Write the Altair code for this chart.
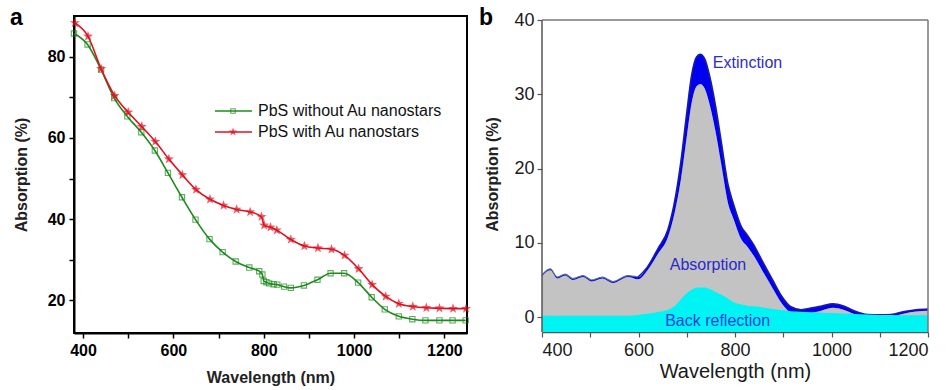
import altair as alt
import pandas as pd

# ---------- panel a data ----------
wl_without = [380, 410, 440, 469, 498, 529, 559, 588, 619, 649, 680, 709, 738, 768, 790, 797,
              800, 806, 812, 822, 830, 845, 860, 889, 919, 948, 978, 1009, 1039, 1068, 1099,
              1129, 1158, 1189, 1218, 1247]
abs_without = [85.7, 83.0, 76.8, 69.8, 65.3, 61.4, 56.9, 51.4, 45.4, 39.9, 35.1, 31.9, 29.6, 28.1, 27.2, 26.4,
               24.8, 24.5, 24.2, 24.0, 23.9, 23.4, 23.1, 23.7, 25.1, 26.7, 26.7, 24.4, 20.8, 17.8, 16.1,
               15.4, 15.1, 15.1, 15.1, 15.1]

wl_with = [382, 411, 440, 470, 500, 530, 560, 590, 620, 650, 681, 711, 740, 770, 795, 801,
           815, 829, 860, 890, 920, 950, 979, 1010, 1040, 1070, 1099, 1130, 1160, 1189, 1219, 1248]
abs_with = [88.3, 85.0, 77.0, 70.4, 66.3, 62.8, 59.1, 54.8, 50.9, 47.3, 44.9, 43.4, 42.4, 41.8, 40.6, 38.5,
            38.0, 37.3, 35.0, 33.4, 32.9, 32.6, 31.1, 27.8, 23.9, 21.0, 19.2, 18.5, 18.2, 18.1, 18.0, 18.0]

series_a = ["PbS without Au nanostars", "PbS with Au nanostars"]

# ---------- panel b data ----------
wl_b = [400, 417, 432, 448, 464, 485, 503, 525, 547, 578, 599, 619, 640, 661, 675, 688, 700, 710, 720, 728,
        737, 748, 760, 772, 785, 797, 813, 825, 840, 857, 878, 896, 916, 937, 960, 980, 1003, 1025, 1047,
        1075, 1100, 1123, 1151, 1175, 1200]
extinction = [5.7, 6.5, 5.4, 5.8, 5.2, 5.6, 5.0, 5.4, 4.8, 5.6, 5.4, 6.8, 9.2, 11.8, 15.6, 21.0, 27.5, 32.5,
              35.0, 35.4, 34.8, 32.3, 28.3, 23.4, 18.0, 15.2, 12.2, 11.1, 9.6, 7.5, 5.0, 2.9, 1.4, 1.0, 1.25,
              1.5, 1.8, 1.5, 0.85, 0.35, 0.3, 0.35, 0.75, 1.0, 1.1]
absorption = [5.5, 6.3, 5.2, 5.6, 5.0, 5.4, 4.8, 5.2, 4.6, 5.4, 5.1, 6.35, 8.5, 10.8, 14.1, 18.6, 24.3, 28.8,
              31.05, 31.4, 30.8, 28.5, 24.9, 20.4, 15.5, 13.2, 10.5, 9.55, 8.15, 6.2, 3.9, 1.95, 0.6, 0.28,
              0.6, 0.9, 1.25, 1.0, 0.43, 0.0, 0.0, 0.07, 0.5, 0.75, 0.85]
reflection = [0.2, 0.2, 0.2, 0.2, 0.2, 0.2, 0.2, 0.2, 0.2, 0.2, 0.3, 0.45, 0.7, 1.0, 1.5, 2.4, 3.2, 3.7,
              3.95, 4.0, 4.0, 3.8, 3.4, 3.0, 2.5, 2.0, 1.7, 1.55, 1.45, 1.3, 1.1, 0.95, 0.8, 0.72, 0.65,
              0.6, 0.55, 0.5, 0.42, 0.35, 0.3, 0.28, 0.25, 0.25, 0.25]

labels_b = ["Extinction", "Absorption", "Back reflection"]
label_wl = [826, 744, 764]
label_val = [34.2, 7.0, -0.55]

FONT = "Liberation Sans"
STAR = "M0,-1L0.24,-0.33L0.95,-0.31L0.38,0.12L0.59,0.81L0,0.4L-0.59,0.81L-0.38,0.12L-0.95,-0.31L-0.24,-0.33Z"

df_a = pd.concat([
    pd.DataFrame({"wl": wl_without, "val": abs_without, "series": series_a[0]}),
    pd.DataFrame({"wl": wl_with, "val": abs_with, "series": series_a[1]}),
])
df_b = pd.DataFrame({"wl": wl_b, "ext": extinction, "abs": absorption, "ref": reflection})
df_lab = pd.DataFrame({"label": labels_b, "wl": label_wl, "val": label_val})

WA, HA = 393, 317
WB, HB = 386, 316

xa = alt.X("wl:Q", scale=alt.Scale(domain=[380, 1250], nice=False, zero=False),
           axis=alt.Axis(title="Wavelength (nm)", values=list(range(400, 1201, 100)), format="d",
                         labelExpr="datum.value % 200 == 0 ? datum.label : ''",
                         grid=False, domainColor="black", domainWidth=2, tickColor="black", tickWidth=1.5,
                         tickSize=5, labelFont=FONT, labelFontSize=16, labelFontWeight="bold",
                         labelColor="black", labelPadding=4, titleFont=FONT, titleFontSize=16,
                         titleFontWeight="bold", titleColor="#222", titlePadding=11))
ya = alt.Y("val:Q", scale=alt.Scale(domain=[12, 90], nice=False, zero=False),
           axis=alt.Axis(title="Absorption (%)", values=[20, 30, 40, 50, 60, 70, 80],
                         labelExpr="datum.value % 20 == 0 ? datum.label : ''",
                         grid=False, domainColor="black", domainWidth=2, tickColor="black", tickWidth=1.5,
                         tickSize=5, labelFont=FONT, labelFontSize=16, labelFontWeight="bold",
                         labelColor="black", labelPadding=4, titleFont=FONT, titleFontSize=16,
                         titleFontWeight="bold", titleColor="#222", titlePadding=18))
color_a = alt.Color("series:N", scale=alt.Scale(domain=series_a, range=["#1e8a1e", "#e01020"]), legend=None)

base_a = alt.Chart(df_a)
lines_a = base_a.mark_line(interpolate="monotone", strokeWidth=1.6).encode(x=xa, y=ya, color=color_a)
sq = base_a.transform_filter(alt.datum.series == series_a[0]).mark_point(
    shape="square", size=28, filled=False, strokeWidth=1.1).encode(x=xa, y=ya, color=color_a)
st = base_a.transform_filter(alt.datum.series == series_a[1]).mark_point(
    shape=STAR, size=110, filled=True, strokeWidth=0).encode(x=xa, y=ya, color=color_a)

leg_df = pd.DataFrame({"series": series_a})
leg_base = alt.Chart(leg_df).transform_calculate(
    ly=f"datum.series == '{series_a[0]}' ? 95 : 116")
leg_line = leg_base.mark_rule(strokeWidth=1.6).encode(
    x=alt.value(141), x2=alt.value(178), y=alt.Y("ly:Q", scale=None), color=color_a)
leg_sq = leg_base.transform_filter(alt.datum.series == series_a[0]).mark_point(
    shape="square", size=20, filled=False, strokeWidth=1.1).encode(
    x=alt.value(159), y=alt.Y("ly:Q", scale=None), color=color_a)
leg_st = leg_base.transform_filter(alt.datum.series == series_a[1]).mark_point(
    shape=STAR, size=80, filled=True, strokeWidth=0).encode(
    x=alt.value(159), y=alt.Y("ly:Q", scale=None), color=color_a)
leg_txt = leg_base.mark_text(align="left", baseline="middle", font=FONT, fontSize=16, color="#111").encode(
    x=alt.value(184), y=alt.Y("ly:Q", scale=None), text="series:N")

tag_a = alt.Chart(pd.DataFrame({"t": ["a"]})).mark_text(
    align="left", baseline="middle", font=FONT, fontSize=23, fontWeight="bold", color="black").encode(
    x=alt.value(-64), y=alt.value(2), text="t:N")

panel_a = alt.layer(lines_a, sq, st, leg_line, leg_sq, leg_st, leg_txt, tag_a).properties(
    width=WA, height=HA, view=alt.ViewBackground(stroke="black", strokeWidth=2))

# ---------- panel b ----------
xscale_b = alt.Scale(domain=[400, 1200], nice=False, zero=False)
xb = alt.X("wl:Q", scale=xscale_b,
           axis=alt.Axis(title="Wavelength (nm)", values=list(range(400, 1201, 100)), format="d",
                         labelExpr="datum.value % 200 == 0 ? datum.label : ''",
                         grid=False, domainColor="#555", domainWidth=1.5, tickColor="#555", tickWidth=1.2,
                         tickSize=5, labelFont=FONT, labelFontSize=18, labelColor="#1a1a1a",
                         labelPadding=4, titleFont=FONT, titleFontSize=20, titleFontWeight="normal",
                         titleColor="#1a1a1a", titlePadding=2))
yscale_b = alt.Scale(domain=[-2, 40.54], nice=False, zero=False)
yb_axis = alt.Axis(title="Absorption (%)", values=[0, 5, 10, 15, 20, 25, 30, 35, 40],
                   labelExpr="datum.value % 10 == 0 ? datum.label : ''", domain=False,
                   grid=False, tickColor="#555", tickWidth=1.2,
                   tickSize=5, labelFont=FONT, labelFontSize=18, labelColor="#1a1a1a", labelPadding=3,
                   titleFont=FONT, titleFontSize=16, titleFontWeight="bold", titleColor="#222",
                   titlePadding=13)

base_b = alt.Chart(df_b)
grey = base_b.mark_area(interpolate="monotone", color="#c3c3c3").encode(
    x=xb, y=alt.Y("abs:Q", scale=yscale_b, axis=yb_axis), y2=alt.datum(-2))
band = base_b.mark_area(interpolate="monotone", color="#0000ee").encode(
    x=xb, y=alt.Y("ext:Q", scale=yscale_b), y2="abs:Q")
line_left = base_b.transform_filter(alt.datum.wl <= 610).mark_line(
    interpolate="monotone", color="#5a7088", strokeWidth=1.2).encode(x=xb, y=alt.Y("ext:Q", scale=yscale_b))
line_right = base_b.transform_filter(alt.datum.wl >= 599).mark_line(
    interpolate="monotone", color="#1c1ca0", strokeWidth=1.6).encode(x=xb, y=alt.Y("ext:Q", scale=yscale_b))
cyan = base_b.mark_area(interpolate="monotone", color="#00f4f4").encode(
    x=xb, y=alt.Y("ref:Q", scale=yscale_b), y2=alt.datum(-2))
texts = alt.Chart(df_lab).mark_text(font=FONT, fontSize=16, align="center", baseline="middle").encode(
    x=alt.X("wl:Q", scale=xscale_b),
    y=alt.Y("val:Q", scale=yscale_b),
    text="label:N",
    color=alt.Color("label:N", scale=alt.Scale(domain=labels_b, range=["#2d2dcc", "#2a2ac8", "#1a3fe0"]),
                    legend=None))
frame_src = alt.Chart(pd.DataFrame({"k": [0]}))
frame_left = frame_src.mark_rule(color="#555", strokeWidth=1.5).encode(
    x=alt.datum(400, scale=xscale_b), y=alt.datum(-2, scale=yscale_b), y2=alt.datum(40))
frame_right = frame_src.mark_rule(color="#777", strokeWidth=1.5).encode(
    x=alt.datum(1200, scale=xscale_b), y=alt.datum(-2, scale=yscale_b), y2=alt.datum(40))
frame_top = frame_src.mark_rule(color="#777", strokeWidth=1.5).encode(
    x=alt.datum(400, scale=xscale_b), x2=alt.datum(1200), y=alt.datum(40, scale=yscale_b))
tag_b = alt.Chart(pd.DataFrame({"t": ["b"]})).mark_text(
    align="left", baseline="middle", font=FONT, fontSize=23, fontWeight="bold", color="black").encode(
    x=alt.value(-63), y=alt.value(2), text="t:N")

panel_b = alt.layer(grey, band, line_left, line_right, cyan, texts, frame_left, frame_right, frame_top,
                    tag_b).properties(width=WB, height=HB, view=alt.ViewBackground(stroke=None))

chart = alt.hconcat(panel_a, panel_b, spacing=6).resolve_scale(color="independent").properties(
    padding={"left": 9, "top": 6, "right": 5, "bottom": 5}, background="white"
).configure_view(clip=False)

chart.save("out.html", embed_options={"renderer": "svg", "actions": False})
